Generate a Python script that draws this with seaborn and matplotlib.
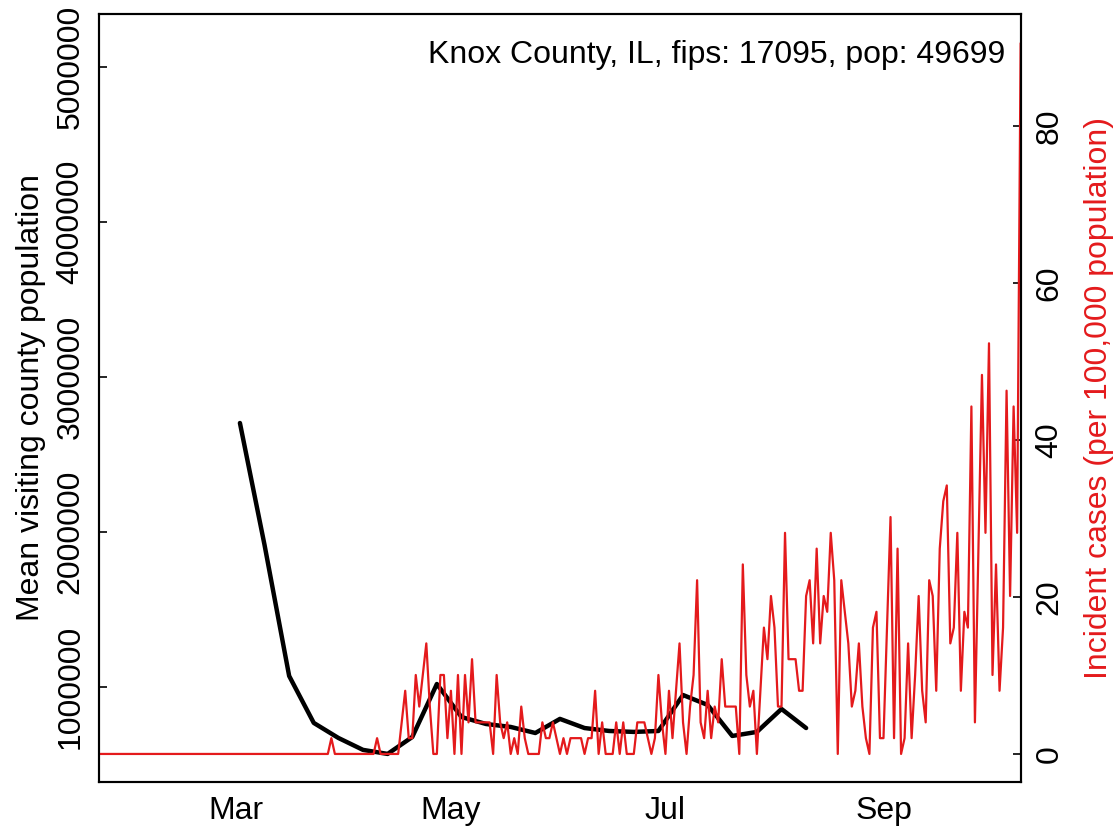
import numpy as np
import pandas as pd
import matplotlib
matplotlib.use("Agg")
import matplotlib.pyplot as plt
import matplotlib.dates as mdates
import seaborn as sns

# --- data ---
COUNTY_LABEL = "Knox County, IL, fips: 17095, pop: 49699"
COUNTY_POP = 49699

# weekly mean visiting county population (black), first week starts 2020-03-02
visit_start = "2020-03-02"
visit_pop = [2703000, 1916000, 1071000, 768000, 671000, 594000, 568000, 677000,
             1019000, 806000, 761000, 742000, 703000, 794000, 735000, 716000,
             710000, 716000, 948000, 884000, 684000, 710000, 858000, 735000]

# daily new cases (red), one value per day from 2020-01-22 to 2020-10-10
case_start = "2020-01-22"
case_counts = [
    0, 0, 0, 0, 0, 0, 0, 0, 0, 0,
    0, 0, 0, 0, 0, 0, 0, 0, 0, 0,
    0, 0, 0, 0, 0, 0, 0, 0, 0, 0,
    0, 0, 0, 0, 0, 0, 0, 0, 0, 0,
    0, 0, 0, 0, 0, 0, 0, 0, 0, 0,
    0, 0, 0, 0, 0, 0, 0, 0, 0, 0,
    0, 0, 0, 0, 0, 0, 1, 0, 0, 0,
    0, 0, 0, 0, 0, 0, 0, 0, 0, 1,
    0, 0, 0, 0, 0, 0, 2, 4, 1, 1,
    5, 3, 5, 7, 3, 0, 0, 5, 5, 1,
    4, 0, 5, 0, 5, 2, 6, 2, 2, 2,
    2, 2, 0, 5, 2, 1, 2, 0, 1, 0,
    3, 1, 0, 0, 0, 0, 2, 1, 1, 2,
    1, 0, 1, 0, 1, 1, 1, 1, 0, 1,
    1, 4, 0, 2, 0, 0, 0, 2, 0, 2,
    0, 0, 0, 2, 2, 2, 1, 0, 1, 5,
    2, 0, 4, 1, 4, 7, 2, 0, 3, 5,
    11, 2, 1, 4, 1, 3, 2, 6, 3, 3,
    3, 3, 0, 12, 5, 3, 4, 0, 4, 8,
    6, 10, 8, 3, 3, 14, 6, 6, 6, 4,
    4, 10, 11, 7, 13, 7, 10, 9, 14, 11,
    0, 11, 9, 7, 3, 4, 7, 3, 1, 0,
    8, 9, 1, 1, 8, 15, 1, 13, 0, 1,
    7, 1, 5, 10, 4, 2, 11, 10, 4, 13,
    16, 17, 7, 8, 14, 4, 9, 8, 22, 2,
    13, 24, 14, 26, 5, 12, 4, 8, 23, 10,
    22, 14, 45,
]

left_ticks = [1000000, 2000000, 3000000, 4000000, 5000000]
right_ticks = [0, 20, 40, 60, 80]

RED = "#E41A1C"
FS = 23

df_visit = pd.DataFrame({
    "date": pd.date_range(visit_start, periods=len(visit_pop), freq="7D"),
    "pop": visit_pop,
})
df_case = pd.DataFrame({
    "date": pd.date_range(case_start, periods=len(case_counts), freq="D"),
    "cases": np.array(case_counts) / COUNTY_POP * 1e5,
})

sns.set_style("white")
plt.rcParams["font.family"] = ["Liberation Sans", "DejaVu Sans"]
plt.rcParams.update({"text.color": "black", "axes.labelcolor": "black",
                     "xtick.color": "black", "ytick.color": "black"})

fig = plt.figure(figsize=(11.19, 8.26), dpi=100)
ax = fig.add_axes([0.0887, 0.0533, 0.8234, 0.9298])

sns.lineplot(data=df_visit, x="date", y="pop", ax=ax, color="black", lw=3.2)
ax.set_ylim(387000, 5342000)
ax.set_xlim(df_case["date"].iloc[0], df_case["date"].iloc[-1])
ax.set_yticks(left_ticks)
ax.set_yticklabels([str(t) for t in left_ticks], rotation=90, va="center", ha="right")
ax.xaxis.set_major_locator(mdates.MonthLocator(bymonth=[3, 5, 7, 9]))
ax.xaxis.set_major_formatter(mdates.DateFormatter("%b"))
ax.set_xlabel("")
ax.set_ylabel("Mean visiting county population", fontsize=FS)
ax.yaxis.set_label_coords(-0.074, 0.5)
ax.yaxis.label.set(va="center", ha="center")
ax.tick_params(axis="both", direction="in", length=6, width=1.2,
               labelsize=FS, pad=10)

# second axis for incident cases
ax2 = ax.twinx()
sns.lineplot(data=df_case, x="date", y="cases", ax=ax2, color=RED, lw=1.6)
ax2.set_ylim(-3.57, 94.27)
ax2.set_yticks(right_ticks)
ax2.set_yticklabels([str(t) for t in right_ticks], rotation=90, va="center", ha="left")
ax2.set_xlabel("")
ax2.set_ylabel("Incident cases (per 100,000 population)", fontsize=FS, color=RED)
ax2.yaxis.set_label_coords(1.085, 0.5)
ax2.yaxis.label.set(va="center", ha="center")
ax2.tick_params(axis="y", direction="in", length=6, width=1.2,
                labelsize=FS, pad=10)

for a in (ax, ax2):
    for sp in a.spines.values():
        sp.set_visible(True)
        sp.set_color("black")
        sp.set_linewidth(1.5)

ax.text(0.983, 0.947, COUNTY_LABEL, transform=ax.transAxes,
        ha="right", va="center", fontsize=FS)

fig.savefig("out.png", dpi=100)
